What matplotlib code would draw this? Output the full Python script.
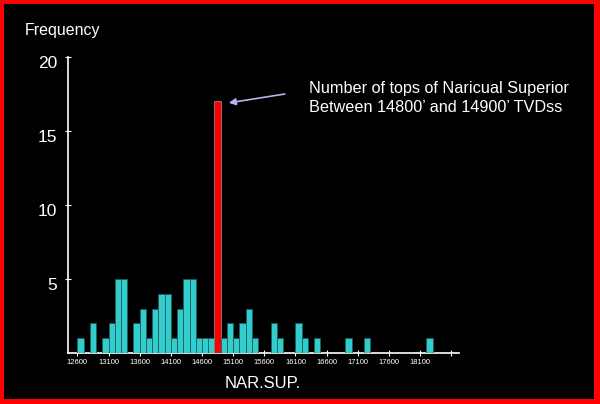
import numpy as np
import matplotlib.pyplot as plt
from matplotlib.patches import Rectangle
from matplotlib.transforms import ScaledTranslation

plt.rcParams['font.family'] = ['Liberation Sans', 'DejaVu Sans']

# histogram of tops depth, bins of 100 ft (left edges)
bin_start = [12600, 12800, 13000, 13100, 13200, 13300, 13500, 13600, 13700,
             13800, 13900, 14000, 14100, 14200, 14300, 14400, 14500, 14600,
             14700, 14800, 14900, 15000, 15100, 15200, 15300, 15400, 15700,
             15800, 16100, 16200, 16400, 16900, 17200, 18200]
counts = [1, 2, 1, 2, 5, 5, 2, 3, 1,
          3, 4, 4, 1, 3, 5, 5, 1, 1,
          1, 17, 1, 2, 1, 2, 3, 1, 2,
          1, 2, 1, 1, 1, 1, 1]
bin_width = 100
highlight = 14800

x_ticks = list(range(12600, 18601, 500))
x_tick_labels = [str(v) for v in x_ticks[:-1]] + ['']
y_ticks = [5, 10, 15, 20]

note = "Number of tops of Naricual Superior\nBetween 14800\u2019 and 14900\u2019 TVDss"

fig = plt.figure(figsize=(6, 4.04), dpi=100, facecolor='black')
ax = fig.add_axes([68/600, 51/404, 391/600, 296/404])
ax.set_facecolor('black')

colors = ['#ff0000' if b == highlight else '#33cccc' for b in bin_start]
edges = ['#888888' if b == highlight else '#1b5e5e' for b in bin_start]
ax.bar(bin_start, counts, width=bin_width, align='edge',
       color=colors, edgecolor=edges, linewidth=0.6, zorder=3)

ax.set_xlim(12450, 18724)
ax.set_ylim(0, 20)
ax.set_xticks(x_ticks)
ax.set_xticklabels(x_tick_labels, fontsize=5.5, color='white')
ax.set_yticks(y_ticks)
ax.set_yticklabels([str(v) for v in y_ticks], fontsize=12.5, color='white')
ax.tick_params(axis='x', direction='inout', length=4, width=0.8, colors='white', pad=2)
ax.tick_params(axis='y', direction='inout', length=4, width=0.8, colors='white', pad=6)
for lbl in ax.get_yticklabels():
    lbl.set_transform(lbl.get_transform() + ScaledTranslation(0, -5/100, fig.dpi_scale_trans))

for side in ['top', 'right']:
    ax.spines[side].set_visible(False)
for side in ['left', 'bottom']:
    ax.spines[side].set_color('white')
    ax.spines[side].set_linewidth(1.2)

# annotation
ax.annotate('', xy=(15030, 16.9), xytext=(15930, 17.5),
            arrowprops=dict(arrowstyle='-|>', color='#b4b4f0', lw=1.2,
                            mutation_scale=10, shrinkA=0, shrinkB=0))
ax.text(16320, 18.4, note, color='white', fontsize=11.7, va='top', ha='left',
        linespacing=1.38)

fig.text(25/600, 1 - 30/404, 'Frequency', color='white', fontsize=11.5,
         ha='left', va='center')
fig.text(263/600, 1 - 383/404, 'NAR.SUP.', color='white', fontsize=12,
         ha='center', va='center')

# red frame: left, top, right, bottom bands (px)
W, H = 600, 404
for x0, y0, w, h in [(0, 0, 4, H), (0, H - 4, W, 4), (W - 6, 0, 6, H), (0, 0, W, 5)]:
    fig.add_artist(Rectangle((x0 / W, y0 / H), w / W, h / H,
                             transform=fig.transFigure, facecolor='#ff0000',
                             edgecolor='none'))

fig.savefig('out.png', dpi=100, facecolor='black')
